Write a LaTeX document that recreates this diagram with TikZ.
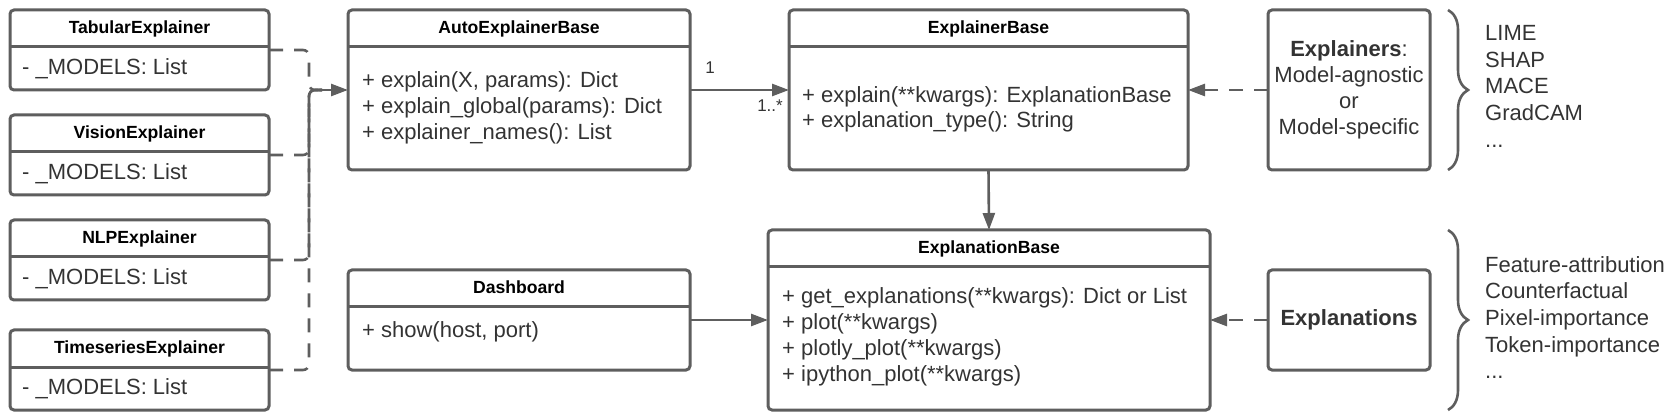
\documentclass[tikz,border=0pt]{standalone}
\usepackage{fontspec}
\setmainfont{Liberation Sans}
\usetikzlibrary{arrows.meta,positioning,decorations.pathreplacing}
\definecolor{borde}{HTML}{5E5E5E}
\definecolor{tinta}{HTML}{333333}

\begin{document}
\begin{tikzpicture}[x=1pt,y=-1pt,>={Triangle[length=17pt,width=12pt]},
    umlbox/.style={draw=borde,line width=3pt,rounded corners=4pt,fill=white,
                   inner sep=0pt,outer sep=0pt,anchor=north west},
    umltitle/.style={font=\fontsize{17.6}{20}\selectfont\bfseries,
                     text height=12.6pt,text depth=0pt,inner sep=0pt},
    umltext/.style={font=\fontsize{22}{26}\selectfont,text=tinta,align=left,
                    inner sep=0pt,anchor=north west},
    sepline/.style={draw=borde,line width=3pt},
    link/.style={draw=borde,line width=2.6pt},
    dashlink/.style={link,dash pattern=on 14pt off 11pt},
    mult/.style={font=\fontsize{17}{20}\selectfont,text=tinta,inner sep=0pt},
    sidelist/.style={font=\fontsize{22}{26.7}\selectfont,text=tinta,align=left,
                     inner sep=0pt,anchor=north west},
    curly/.style={draw=borde,line width=2.6pt,decorate,
                  decoration={brace,amplitude=20pt}}]
  \useasboundingbox (0,0) rectangle (1672,419);

  % explainer subclasses
  \node[umlbox,minimum width=259pt,minimum height=80pt] (tab) at (10,10) {};
  \node[umlbox,minimum width=259pt,minimum height=80pt,below=25pt of tab] (vis) {};
  \node[umlbox,minimum width=259pt,minimum height=80pt,below=25pt of vis] (nlp) {};
  \node[umlbox,minimum width=259pt,minimum height=80pt,below=30pt of nlp] (ts) {};
  \foreach \n/\t in {tab/Tabular,vis/Vision,nlp/NLP,ts/Timeseries}{
    \draw[sepline] ([yshift=-37pt]\n.north west) -- ([yshift=-37pt]\n.north east);
    \node[umltitle] (\n-title) at ([yshift=-17pt]\n.north) {\t Explainer};
    \node[umltext] (\n-attr) at ([shift={(12pt,-48pt)}]\n.north west) {- \_MODELS: List};
  }

  % base classes
  \node[umlbox,minimum width=342pt,minimum height=160pt] (auto) at (348,10) {};
  \draw[sepline] ([yshift=-37pt]auto.north west) -- ([yshift=-37pt]auto.north east);
  \node[umltitle] (auto-title) at ([yshift=-17pt]auto.north) {AutoExplainerBase};
  \node[umltext] (auto-ops) at ([shift={(14pt,-61pt)}]auto.north west)
    {+ explain(X, params): Dict\\+ explain\_global(params): Dict\\+ explainer\_names(): List};

  \node[umlbox,minimum width=399pt,minimum height=160pt] (expbase) at (789,10) {};
  \draw[sepline] ([yshift=-37pt]expbase.north west) -- ([yshift=-37pt]expbase.north east);
  \node[umltitle] (expbase-title) at ([yshift=-17pt]expbase.north) {ExplainerBase};
  \node[umltext,font=\fontsize{22}{25}\selectfont] (expbase-ops)
    at ([shift={(13pt,-76pt)}]expbase.north west)
    {+ explain(**kwargs): ExplanationBase\\+ explanation\_type(): String};

  \node[umlbox,minimum width=342pt,minimum height=100pt] (dash) at (348,270) {};
  \draw[sepline] ([yshift=-37pt]dash.north west) -- ([yshift=-37pt]dash.north east);
  \node[umltitle] (dash-title) at ([yshift=-17pt]dash.north) {Dashboard};
  \node[umltext] (dash-ops) at ([shift={(14pt,-51pt)}]dash.north west) {+ show(host, port)};

  \node[umlbox,minimum width=442pt,minimum height=180pt] (explbase) at (768,230) {};
  \draw[sepline] ([yshift=-37pt]explbase.north west) -- ([yshift=-37pt]explbase.north east);
  \node[umltitle] (explbase-title) at ([yshift=-17pt]explbase.north) {ExplanationBase};
  \node[umltext] (explbase-ops) at ([shift={(14pt,-57pt)}]explbase.north west)
    {+ get\_explanations(**kwargs): Dict or List\\+ plot(**kwargs)\\
     + plotly\_plot(**kwargs)\\+ ipython\_plot(**kwargs)};

  % right column
  \node[umlbox,minimum width=162pt,minimum height=160pt,align=center,text=tinta,
        font=\fontsize{22}{26}\selectfont] (explainers) at (1268,10)
    {\textbf{Explainers}:\\Model-agnostic\\or\\Model-specific};
  \node[umlbox,minimum width=162pt,minimum height=100pt,text=tinta,
        font=\fontsize{22}{26}\selectfont\bfseries] (explanations) at (1268,270) {Explanations};

  \draw[curly] (1448,10) -- (1448,170);
  \draw[curly] (1448,230) -- (1448,410);
  \node[sidelist] (methods) at (1485,25) {LIME\\SHAP\\MACE\\GradCAM\\...};
  \node[sidelist] (kinds) at (1485,256)
    {Feature-attribution\\Counterfactual\\Pixel-importance\\Token-importance\\...};

  % connectors
  \coordinate (join) at (322,90);
  \foreach \n in {tab,vis,nlp,ts}{
    \draw[dashlink,rounded corners=6pt] ([yshift=-40pt]\n.north east) -- ++(40,0) |- (join);
  }
  \draw[link,->] (join) -- (auto.west);
  \draw[link,->] (auto.east) -- (expbase.west);
  \node[mult] (one) at ([shift={(20pt,22pt)}]auto.east) {1};
  \node[mult] (many) at ([shift={(-19pt,-16pt)}]expbase.west) {1..*};
  \draw[link,->] (expbase.south) -- (explbase.north);
  \draw[link,->] (dash.east) -- (explbase.west);
  \draw[dashlink,->] (explainers.west) -- (expbase.east);
  \draw[dashlink,->] (explanations.west) -- (explbase.east);
\end{tikzpicture}
\end{document}
